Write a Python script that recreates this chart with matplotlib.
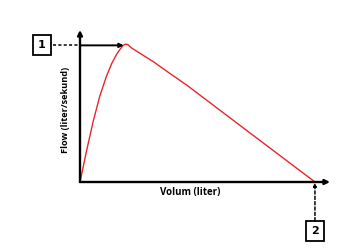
import matplotlib
matplotlib.use('Agg')
import matplotlib.pyplot as plt

# Flow-volume curve (volume in liter, flow in liter/sekund)
volume = [0, 0.14, 0.28, 0.42, 0.56, 0.68, 0.78, 0.86, 0.92, 0.97, 1.02, 1.1, 1.56,
          1.91, 2.27, 3.0, 4.0, 5.0]
flow = [0, 2.3, 4.45, 6.3, 7.75, 8.75, 9.4, 9.8, 10.05, 10.14, 10.1, 9.85, 8.85,
        7.99, 7.13, 5.22, 2.61, 0]

peak_v = 0.93
peak_f = 10.05
end_v = 5.0

fig = plt.figure(figsize=(3.51, 2.52), dpi=100)
ax = fig.add_axes([80 / 351, 70 / 252, 250 / 351, 152 / 252])
ax.set_xlim(0, 5.32)
ax.set_ylim(0, 11.18)
ax.axis('off')

# Axes drawn as arrows
arrow = dict(arrowstyle='-|>', color='black', lw=1.7, mutation_scale=7,
             shrinkA=0, shrinkB=0)
ax.annotate('', xy=(0, 11.18), xytext=(0, 0), arrowprops=arrow, annotation_clip=False)
ax.annotate('', xy=(5.32, 0), xytext=(0, 0), arrowprops=arrow, annotation_clip=False)

# The curve
ax.plot(volume, flow, color='#e8262a', lw=1.0, clip_on=False)

# Marker 1: peak flow
ax.annotate('', xy=(peak_v, peak_f), xytext=(0, peak_f),
            arrowprops=dict(arrowstyle='-|>', color='black', lw=1.4,
                            mutation_scale=6, shrinkA=0, shrinkB=0))
ax.plot([-0.58, 0], [peak_f, peak_f], color='black', lw=1.1, ls=(0, (2, 1.5)),
        clip_on=False)
ax.text(-0.81, peak_f, '1', ha='center', va='center', fontsize=8, fontweight='bold',
        bbox=dict(boxstyle='square,pad=0.45', fc='white', ec='black', lw=1.3),
        clip_on=False)

# Marker 2: end volume
ax.annotate('', xy=(end_v, -0.05), xytext=(end_v, -2.85),
            arrowprops=dict(arrowstyle='-|>', color='black', lw=1.1, ls=(0, (2, 1.5)),
                            mutation_scale=5, shrinkA=0, shrinkB=0),
            annotation_clip=False)
ax.text(end_v, -3.6, '2', ha='center', va='center', fontsize=8, fontweight='bold',
        bbox=dict(boxstyle='square,pad=0.45', fc='white', ec='black', lw=1.3),
        clip_on=False)

# Labels
fig.text(190 / 351, 1 - 193 / 252, 'Volum (liter)', ha='center', va='center',
         fontsize=7, fontweight='bold', family='Open Sans')
fig.text(66 / 351, 1 - 110 / 252, 'Flow (liter/sekund)', ha='center', va='center',
         rotation=90, fontsize=6.6, fontweight='bold', family='Open Sans')

fig.savefig('out.png', dpi=100)
